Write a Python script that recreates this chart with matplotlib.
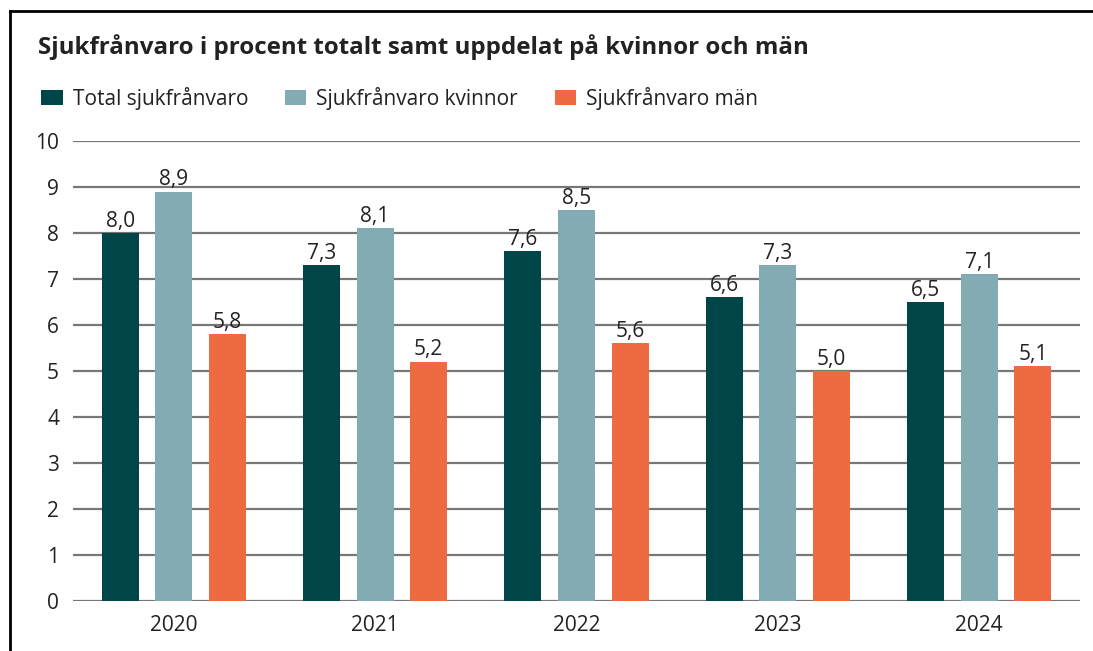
import matplotlib
matplotlib.use("Agg")
import matplotlib.pyplot as plt
import numpy as np
from matplotlib.patches import Patch
from matplotlib.lines import Line2D

years = ["2020", "2021", "2022", "2023", "2024"]
series_names = ["Total sjukfrånvaro", "Sjukfrånvaro kvinnor", "Sjukfrånvaro män"]
total = [8.0, 7.3, 7.6, 6.6, 6.5]
kvinnor = [8.9, 8.1, 8.5, 7.3, 7.1]
man = [5.8, 5.2, 5.6, 5.0, 5.1]
colors = ["#004547", "#82abb3", "#ee6a40"]
title = "Sjukfrånvaro i procent totalt samt uppdelat på kvinnor och män"

plt.rcParams['font.family'] = ['Open Sans', 'DejaVu Sans']

fig = plt.figure(figsize=(10.93, 6.51), dpi=100)
ax = fig.add_axes([73/1093, 1-601/651, (1080-73)/1093, (601-141)/651])

x = np.arange(len(years))
w = 0.184
step = 0.266
for i, (vals, c, name) in enumerate(zip([total, kvinnor, man], colors, series_names)):
    bars = ax.bar(x + (i-1)*step, vals, width=w, color=c, zorder=3, label=name)
    ax.bar_label(bars, labels=[f"{v:.1f}".replace(".", ",") for v in vals],
                 padding=1, fontsize=15, color="#222222")

ax.set_xlim(-0.5, 4.5)
ax.set_ylim(0, 10)
ax.set_yticks(range(0, 11))
ax.set_xticks(x)
ax.set_xticklabels(years)
ax.tick_params(axis='both', length=0, labelsize=15, colors="#222222")
ax.tick_params(axis='y', pad=10)
ax.tick_params(axis='x', pad=10)
ax.yaxis.grid(True, color="#777777", linewidth=1.6, zorder=0)
ax.set_axisbelow(True)
for s in ax.spines.values():
    s.set_visible(False)

fig.text(38/1093, 1-47/651, title, fontsize=17.4, fontweight='bold', color="#222222", va='center')

handles = [Patch(facecolor=c, edgecolor='none') for c in colors]
fig.legend(handles, series_names, loc='center left', bbox_to_anchor=(22/1093, 1-98/651),
           ncol=3, frameon=False, fontsize=15, handlelength=1.05, handleheight=0.75,
           columnspacing=1.75, handletextpad=0.48, labelcolor="#222222")

fig.add_artist(Line2D([9.5/1093, 9.5/1093], [0, 1-10.5/651], color="black", linewidth=2, transform=fig.transFigure))
fig.add_artist(Line2D([9.5/1093, 1], [1-10.5/651, 1-10.5/651], color="black", linewidth=2, transform=fig.transFigure))

fig.savefig("out.png", dpi=100)
